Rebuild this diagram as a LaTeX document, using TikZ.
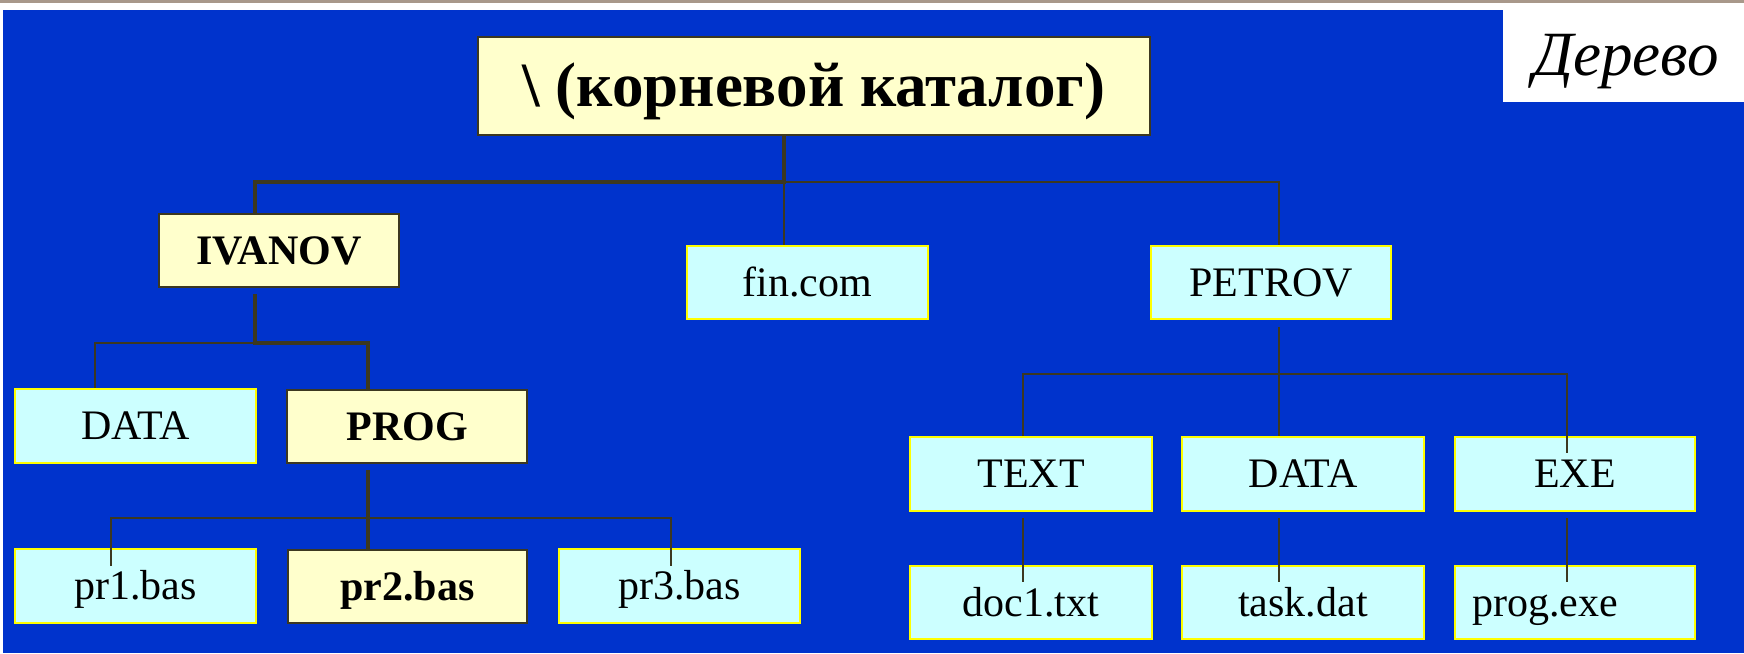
\documentclass[tikz,border=0pt]{standalone}
\usepackage{fontspec}
\setmainfont{Liberation Serif}
\definecolor{bluebg}{HTML}{0033CC}
\definecolor{cyanf}{HTML}{CCFFFF}
\definecolor{yellowb}{HTML}{FFFF00}
\definecolor{beigef}{HTML}{FFFFCC}
\definecolor{olive}{HTML}{3C3820}
\definecolor{tanline}{HTML}{A8988A}
\newcommand\myboxfont{\fontsize{42}{48}\selectfont}
\begin{document}
\begin{tikzpicture}[x=1pt,y=-1pt,
  box/.style={rectangle, inner sep=0pt, text height=27.8pt, text depth=0pt,
    font=\myboxfont, text=black},
  cyanbox/.style={box, fill=cyanf, draw=yellowb, line width=2pt},
  beigebox/.style={box, fill=beigef, draw=olive, line width=1.8pt, font=\myboxfont\bfseries},
  thickln/.style={draw=olive, line width=4pt},
  thinln/.style={draw=olive, line width=1.4pt}]
\useasboundingbox (0,0) rectangle (1744,653);
\fill[white] (0,0) rectangle (1744,653);
\fill[bluebg] (3,10) rectangle (1744,653);
\fill[white] (1503,2.5) rectangle (1744,102);
\fill[tanline] (0,0) rectangle (1744,2.5);
\node[anchor=base west, inner sep=0pt, font=\fontsize{63}{70}\selectfont\itshape] (title) at (1533,75) {Дерево};

% boxes
\node[beigebox, minimum width=672pt, minimum height=98pt, text height=41.5pt,
  font=\fontsize{63}{70}\selectfont\bfseries] (root) at (814,86) {\textbackslash\ (корневой каталог)};
\node[beigebox, minimum width=240pt, minimum height=73pt] (ivanov) at (279,250.5) {IVANOV};
\node[cyanbox, minimum width=241pt, minimum height=73pt] (fin) at (807.5,282.5) {fin.com};
\node[cyanbox, minimum width=240pt, minimum height=73pt] (petrov) at (1271,282.5) {PETROV};
\node[cyanbox, minimum width=241pt, minimum height=74pt] (data1) at (135.5,426) {DATA};
\node[beigebox, minimum width=240pt, minimum height=73pt] (prog) at (407,426.5) {PROG};
\node[cyanbox, minimum width=241pt, minimum height=74pt] (pr1) at (135.5,586) {pr1.bas};
\node[beigebox, minimum width=239pt, minimum height=73pt] (pr2) at (407.5,586.5) {pr2.bas};
\node[cyanbox, minimum width=241pt, minimum height=74pt] (pr3) at (679.5,586) {pr3.bas};
\node[cyanbox, minimum width=242pt, minimum height=74pt] (text) at (1031,474) {TEXT};
\node[cyanbox, minimum width=242pt, minimum height=74pt] (data2) at (1303,474) {DATA};
\node[cyanbox, minimum width=240pt, minimum height=74pt] (exe) at (1575,474) {EXE};
\node[cyanbox, minimum width=242pt, minimum height=73pt] (doc1) at (1031,602.5) {doc1.txt};
\node[cyanbox, minimum width=242pt, minimum height=73pt] (task) at (1303,602.5) {task.dat};
\node[cyanbox, minimum width=240pt, minimum height=73pt] (progexe) at (1575,602.5) {\makebox[206pt][l]{prog.exe}};

% junction and end coordinates
\coordinate (j0) at (784,182);
\coordinate (ivx) at (255,294);
\coordinate (j1) at (255,343);
\coordinate (d1x) at (95,342);
\coordinate (pgx) at (367.5,470);
\coordinate (j2) at (367.5,518);
\coordinate (p1e) at (111,566);
\coordinate (p3e) at (671,566);
\coordinate (pvx) at (1279,327);
\coordinate (j3) at (1279,374);
\coordinate (tx) at (1023,374);
\coordinate (exe1) at (1567,453);
\coordinate (dtop) at (1023,518);
\coordinate (dbot) at (1023,582);
\coordinate (ttop) at (1279,518);
\coordinate (tbot) at (1279,582);
\coordinate (etop) at (1567,518);
\coordinate (ebot) at (1567,582);

% connectors
\draw[thinln] (j0) -- (fin.north -| j0);
\draw[thinln] (j0) -| (petrov.north -| pvx);
\draw[thickln] (root.south -| j0) -- (j0) -| (ivanov.north -| ivx);
\draw[thinln] (j1) -| (data1.north -| d1x);
\draw[thickln] (ivx) -- (j1) -| (prog.north -| pgx);
\draw[thinln] (p1e) |- (j2) -| (p3e);
\draw[thickln] (pgx) -- (pr2.north -| pgx);
\draw[thinln] (pvx) -- (data2.north -| pvx);
\draw[thinln] (text.north -| tx) |- (j3) -| (exe1);
\draw[thinln] (dtop) -- (dbot);
\draw[thinln] (ttop) -- (tbot);
\draw[thinln] (etop) -- (ebot);
\end{tikzpicture}
\end{document}
